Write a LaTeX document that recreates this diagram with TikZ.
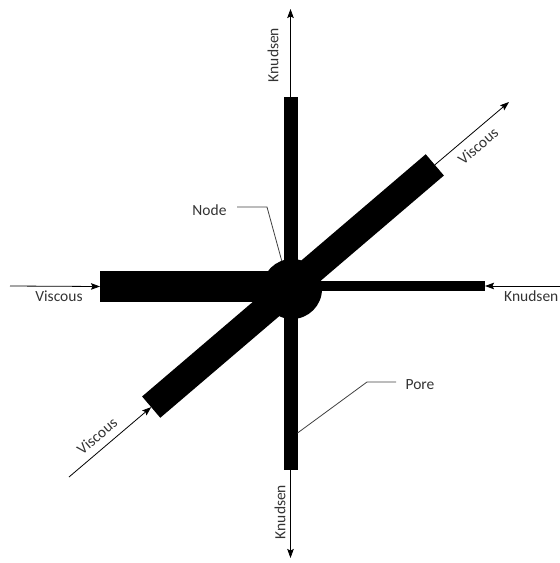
\documentclass[tikz,border=0pt]{standalone}
\usepackage{fontspec}
\setmainfont{Carlito}
\usetikzlibrary{arrows.meta}
\begin{document}
\begin{tikzpicture}[x=1pt,y=-1pt,
  pore/.style={fill=black,draw=none,inner sep=0pt,outer sep=0pt},
  arr/.style={draw=black,line width=0.8pt,-{Stealth[length=9pt,width=6.5pt,inset=1.5pt]}},
  leader/.style={draw=black!75,line width=0.8pt},
  lbl/.style={text=black!80,font=\fontsize{15.5}{18}\selectfont,inner sep=0pt}]
\useasboundingbox (0,0) rectangle (560,563);
% pores
\node[pore,minimum width=14,minimum height=373] (vpore) at (290.5,283.5) {};
\node[pore,anchor=west,minimum width=192,minimum height=31] (lpore) at (100,286.5) {};
\node[pore,anchor=east,minimum width=193,minimum height=10] (rpore) at (485,286) {};
\node[pore,rotate=40.5,minimum width=373,minimum height=28] (dpore) at (293,286) {};
\node[pore,circle,minimum size=60] (junction) at (292,289) {};
% free arrow ends
\coordinate (vtop) at (290.5,9);
\coordinate (vbot) at (290.5,558);
\coordinate (lft) at (10,286);
\coordinate (rgt) at (562,286);
\coordinate (ur) at (509,102);
\coordinate (ll) at (69,477);
% arrows
\draw[arr] (vpore.north) -- (vtop);
\draw[arr] (vpore.south) -- (vbot);
\draw[arr] (lft) -- (lpore.west);
\draw[arr] (rgt) -- (rpore.east);
\draw[arr] (dpore.east) -- (ur);
\draw[arr] (ll) -- (dpore.west);
% labels
\node[lbl,rotate=90] (kt) at (273,55) {Knudsen};
\node[lbl,rotate=90] (kb) at (280,512) {Knudsen};
\node[lbl] (vl) at (59,296) {Viscous};
\node[lbl,anchor=west] (kr) at (504,296) {Knudsen};
\node[lbl,rotate=40.5] (vur) at (478,146) {Viscous};
\node[lbl,rotate=40.5] (vll) at (97,436) {Viscous};
\node[lbl] (nodelbl) at (209.5,210) {Node};
\node[lbl] (porelbl) at (420,385) {Pore};
% leaders
\coordinate (n1) at (237,207);
\coordinate (n2) at (267,207);
\draw[leader] (n1) -- (n2) -- (junction.110);
\coordinate (p1) at (396,382);
\coordinate (p2) at (367,382);
\coordinate (p3) at (297.5,433);
\draw[leader] (p1) -- (p2) -- (p3);
\end{tikzpicture}
\end{document}
